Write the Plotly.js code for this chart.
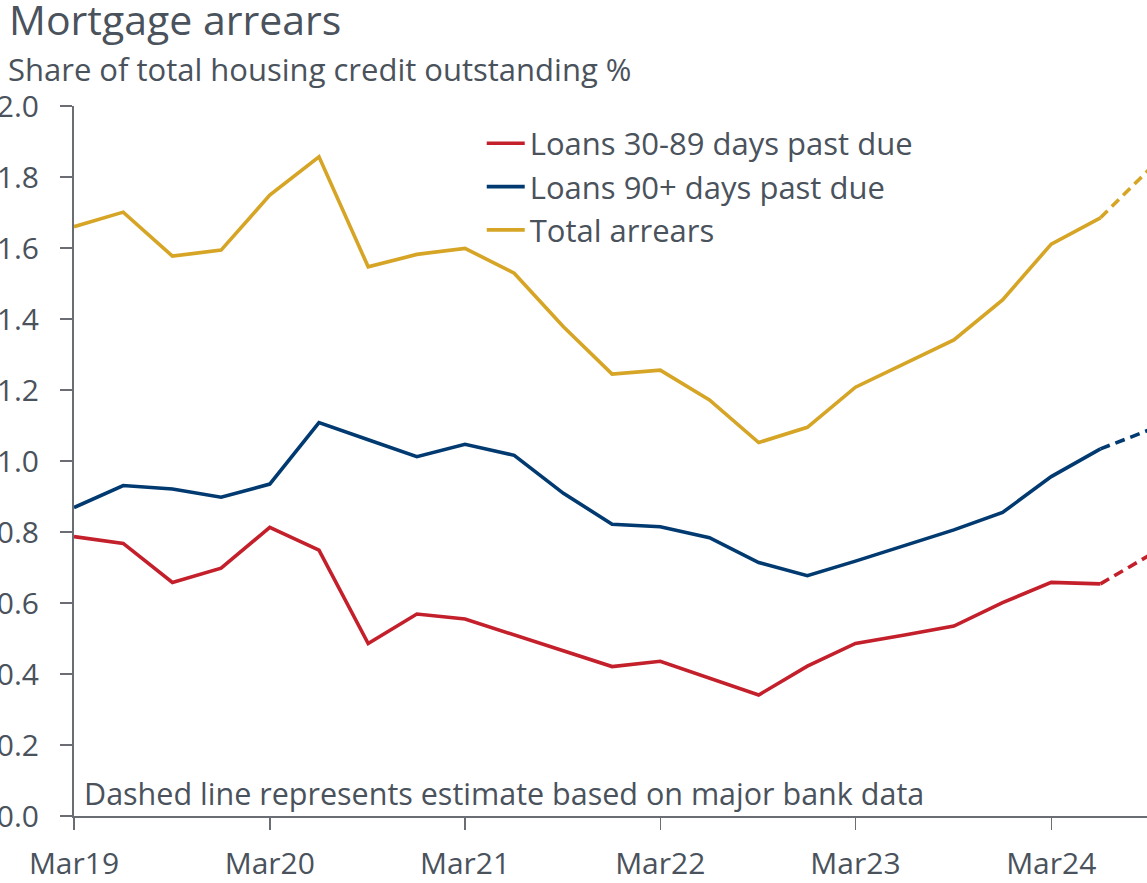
<!DOCTYPE html>
<html>
<head>
<meta charset="utf-8">
<script src="https://cdn.plot.ly/plotly-3.0.1.min.js"></script>
<style>html,body{margin:0;padding:0;background:#fff;}#chart{width:1147px;height:883px;}</style>
</head>
<body>
<div id="chart"></div>
<script>
// Quarterly observations (actual data)
const quarters = ["2019-03-01","2019-06-01","2019-09-01","2019-12-01",
  "2020-03-01","2020-06-01","2020-09-01","2020-12-01",
  "2021-03-01","2021-06-01","2021-09-01","2021-12-01",
  "2022-03-01","2022-06-01","2022-09-01","2022-12-01",
  "2023-03-01","2023-06-01","2023-09-01","2023-12-01",
  "2024-03-01","2024-06-01"];
const loans30to89 = [0.787,0.768,0.658,0.698,0.813,0.749,0.486,0.569,0.555,0.510,0.466,0.421,
  0.436,0.389,0.341,0.422,0.486,0.510,0.535,0.601,0.658,0.654];
const loans90plus = [0.869,0.931,0.921,0.898,0.935,1.108,1.060,1.012,1.047,1.016,0.909,0.822,
  0.815,0.784,0.714,0.677,0.718,0.763,0.806,0.855,0.956,1.034];
const totalArrears = [1.660,1.701,1.577,1.594,1.749,1.857,1.547,1.582,1.599,1.529,1.378,1.245,
  1.256,1.172,1.052,1.095,1.208,1.275,1.341,1.454,1.611,1.685];
// Estimate based on major bank data (dashed)
const estimateQuarter = "2024-09-01";
const est30to89 = 0.735;
const est90plus = 1.088;
const estTotal = 1.823;

const seriesNames = ["Loans 30-89 days past due","Loans 90+ days past due","Total arrears"];
const colors = ["#C3202B","#003A70","#D6A526"];
const textColor = "#4A525C";
const FONT = "Open Sans, Noto Sans, sans-serif";

const actual = [loans30to89, loans90plus, totalArrears];
const est = [est30to89, est90plus, estTotal];
const traces = [];
actual.forEach((vals, i) => {
  traces.push({
    x: quarters, y: vals, type: "scatter", mode: "lines", name: seriesNames[i],
    line: {color: colors[i], width: 3.6}, showlegend: true
  });
});
actual.forEach((vals, i) => {
  traces.push({
    x: [quarters[quarters.length-1], estimateQuarter],
    y: [vals[vals.length-1], est[i]],
    type: "scatter", mode: "lines", showlegend: false, hoverinfo: "skip",
    line: {color: colors[i], width: 3.6, dash: "10px,6px"}
  });
});

const layout = {
  width: 1147, height: 883,
  margin: {l: 74, r: 0, t: 106, b: 67},
  paper_bgcolor: "#fff", plot_bgcolor: "#fff",
  font: {family: FONT, color: textColor, size: 30},
  title: {
    text: "Mortgage arrears", font: {family: FONT, size: 41, color: textColor},
    x: 9/1147, xref: "container", xanchor: "left",
    y: 1 - 21/883, yref: "container", yanchor: "middle"
  },
  showlegend: true,
  legend: {
    x: 0.38, y: 0.985, xanchor: "left", yanchor: "top",
    font: {family: FONT, size: 31, color: textColor},
    bgcolor: "rgba(0,0,0,0)", itemwidth: 38, tracegroupgap: 0
  },
  xaxis: {
    type: "date",
    range: ["2019-03-01", "2024-08-27"],
    tick0: "2019-03-01", dtick: "M12", tickformat: "%b%y",
    ticks: "outside", ticklen: 12, tickwidth: 1.5, tickcolor: "#6A6E74",
    showline: true, linecolor: "#6A6E74", linewidth: 2,
    showgrid: false, zeroline: false,
    tickfont: {family: FONT, size: 30, color: textColor},
    ticklabelstandoff: 8
  },
  yaxis: {
    range: [0, 2.0], dtick: 0.2, tick0: 0, tickformat: ".1f",
    ticks: "outside", ticklen: 12, tickwidth: 1.5, tickcolor: "#6A6E74",
    showline: true, linecolor: "#6A6E74", linewidth: 2,
    showgrid: false, zeroline: false,
    tickfont: {family: FONT, size: 30, color: textColor},
    ticklabelstandoff: 15
  },
  annotations: [
    {
      text: "Share of total housing credit outstanding %",
      xref: "paper", yref: "paper", x: (6-74)/1073, y: 1 + (106-69)/710,
      xanchor: "left", yanchor: "middle", showarrow: false,
      font: {family: FONT, size: 31, color: textColor}
    },
    {
      text: "Dashed line represents estimate based on major bank data",
      xref: "paper", yref: "paper", x: (82-74)/1073, y: 0,
      xanchor: "left", yanchor: "bottom", showarrow: false,
      font: {family: FONT, size: 30.5, color: textColor}
    }
  ]
};

Plotly.newPlot("chart", traces, layout, {displayModeBar: false, staticPlot: true});
</script>
</body>
</html>
